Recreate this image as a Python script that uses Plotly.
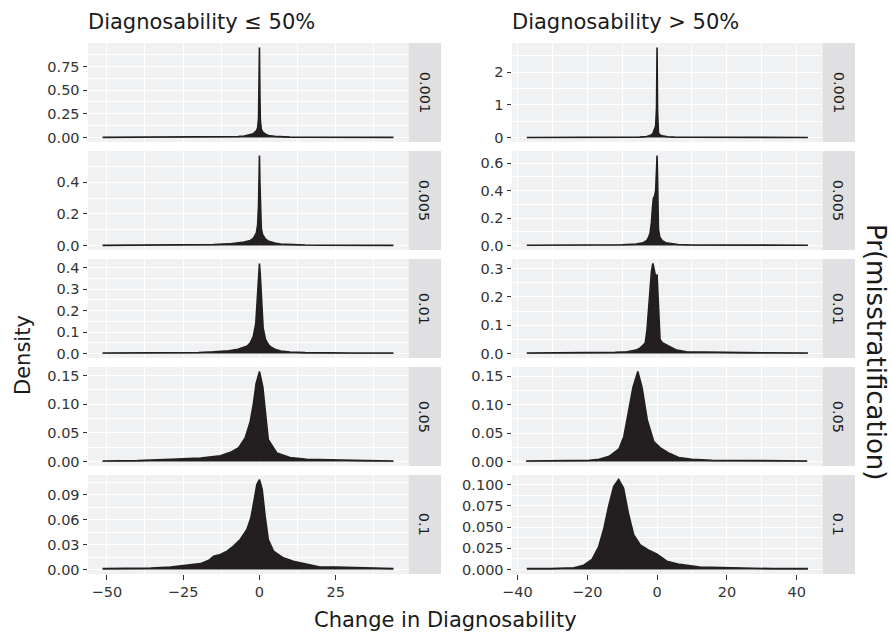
import plotly.graph_objects as go

# ---------------- data ----------------
probs = ["0.001", "0.005", "0.01", "0.05", "0.1"]
col_titles = ["Diagnosability \u2264 50%", "Diagnosability > 50%"]

# Left column: Diagnosability <= 50%
L1_x = [-51.4, -40, -30, -20, -15, -10, -7, -5, -3, -2, -1, -0.6, -0.3, -0.15, 0, 0.15, 0.3, 0.6, 1, 2, 3, 5, 7, 10, 15, 20, 30, 43.9]
L1_y = [0.001, 0.002, 0.002, 0.003, 0.004, 0.006, 0.01, 0.016, 0.028, 0.04, 0.07, 0.1, 0.2, 0.5, 0.95, 0.45, 0.18, 0.09, 0.06, 0.035, 0.022, 0.012, 0.007, 0.004, 0.003, 0.002, 0.002, 0.001]

L2_x = [-51.4, -40, -30, -20, -15, -10, -7, -5, -3, -2, -1, -0.6, -0.3, -0.15, 0, 0.15, 0.3, 0.6, 1, 2, 3, 5, 7, 10, 15, 20, 30, 43.9]
L2_y = [0.001, 0.002, 0.003, 0.004, 0.006, 0.01, 0.016, 0.022, 0.032, 0.045, 0.08, 0.13, 0.25, 0.42, 0.57, 0.4, 0.22, 0.11, 0.07, 0.04, 0.027, 0.015, 0.009, 0.005, 0.003, 0.002, 0.002, 0.001]

L3_x = [-51.4, -40, -30, -20, -15, -10, -7, -5, -4, -3, -2, -1.2, -0.7, -0.3, 0, 0.3, 0.7, 1.2, 2, 3, 4, 5, 7, 10, 15, 20, 30, 43.9]
L3_y = [0.002, 0.002, 0.003, 0.005, 0.008, 0.013, 0.02, 0.028, 0.035, 0.05, 0.08, 0.14, 0.24, 0.36, 0.42, 0.36, 0.22, 0.12, 0.065, 0.04, 0.028, 0.02, 0.012, 0.007, 0.004, 0.003, 0.002, 0.002]

L4_x = [-51.4, -40, -29, -19.3, -12.8, -9.5, -6.8, -4.7, -3, -1.95, -1.1, 0, 1.1, 1.86, 2.9, 5.7, 10, 15.5, 26, 35, 43.9]
L4_y = [0.001, 0.0015, 0.004, 0.006, 0.01, 0.016, 0.024, 0.041, 0.07, 0.102, 0.136, 0.157, 0.13, 0.09, 0.038, 0.015, 0.007, 0.004, 0.002, 0.0015, 0.001]

L5_x = [-51.4, -35.6, -29.1, -23.7, -19.3, -16.6, -15, -12.8, -10.6, -8.5, -6.3, -4.1, -2.8, -1.7, -0.85, 0, 0.9, 1.86, 2.9, 4.6, 7.8, 11.1, 15.5, 19.8, 25.2, 32.8, 43.9]
L5_y = [0.001, 0.0016, 0.003, 0.0048, 0.007, 0.011, 0.016, 0.018, 0.022, 0.028, 0.036, 0.048, 0.062, 0.084, 0.102, 0.108, 0.096, 0.064, 0.036, 0.022, 0.014, 0.01, 0.006, 0.003, 0.003, 0.002, 0.001]

# Right column: Diagnosability > 50%
R1_x = [-37.3, -30, -20, -10, -5, -3, -2, -1.2, -0.7, -0.4, -0.15, 0, 0.15, 0.4, 0.8, 1.5, 3, 5, 10, 20, 30, 43.2]
R1_y = [0.002, 0.003, 0.004, 0.006, 0.012, 0.03, 0.06, 0.12, 0.25, 0.35, 0.9, 2.75, 0.8, 0.15, 0.08, 0.05, 0.025, 0.012, 0.006, 0.004, 0.003, 0.002]

R2_x = [-37.3, -30, -20, -10, -6, -4, -3, -2.5, -2, -1.6, -1.3, -1.05, -0.7, -0.4, -0.15, 0, 0.15, 0.4, 0.8, 1.5, 2.5, 4, 6, 10, 20, 30, 43.2]
R2_y = [0.002, 0.002, 0.003, 0.005, 0.01, 0.02, 0.035, 0.055, 0.09, 0.17, 0.28, 0.345, 0.36, 0.4, 0.55, 0.656, 0.5, 0.12, 0.06, 0.035, 0.02, 0.012, 0.007, 0.004, 0.003, 0.002, 0.002]

R3_x = [-37.3, -30, -20, -12, -8.6, -6, -4.8, -4, -3.4, -2.9, -2.5, -2, -1.6, -1.2, -0.9, -0.5, -0.2, 0, 0.25, 0.5, 0.85, 1.5, 2.8, 4, 5.6, 8.4, 15, 25, 43.2]
R3_y = [0.002, 0.002, 0.003, 0.004, 0.006, 0.012, 0.02, 0.028, 0.037, 0.08, 0.154, 0.224, 0.29, 0.318, 0.3, 0.27, 0.26, 0.28, 0.2, 0.13, 0.05, 0.038, 0.03, 0.02, 0.012, 0.006, 0.004, 0.003, 0.002]

R4_x = [-37.5, -30, -19.4, -16.6, -13.7, -10.9, -9.5, -8.1, -6.9, -5.5, -4.3, -2.8, -0.95, 0.95, 3.3, 6.2, 10, 15.6, 25.1, 35, 43.0]
R4_y = [0.001, 0.001, 0.002, 0.004, 0.009, 0.022, 0.044, 0.09, 0.13, 0.158, 0.13, 0.073, 0.035, 0.024, 0.015, 0.007, 0.004, 0.002, 0.0015, 0.001, 0.001]

R5_x = [-37.3, -30.4, -23.8, -21, -18.6, -16.7, -15.3, -13.9, -12.4, -11, -9.6, -8.2, -6.7, -4.8, -2.5, 0, 2.8, 6.5, 12.2, 17, 21.7, 33, 43.2]
R5_y = [0.001, 0.001, 0.002, 0.005, 0.012, 0.027, 0.047, 0.074, 0.098, 0.106, 0.096, 0.066, 0.041, 0.029, 0.023, 0.018, 0.0098, 0.006, 0.003, 0.0025, 0.0015, 0.001, 0.001]

left_series = [(L1_x, L1_y), (L2_x, L2_y), (L3_x, L3_y), (L4_x, L4_y), (L5_x, L5_y)]
right_series = [(R1_x, R1_y), (R2_x, R2_y), (R3_x, R3_y), (R4_x, R4_y), (R5_x, R5_y)]

# y tick steps and formats per row
left_dtick = [0.25, 0.2, 0.1, 0.05, 0.03]
left_fmt = [".2f", ".1f", ".1f", ".2f", ".2f"]
right_dtick = [1, 0.2, 0.1, 0.05, 0.025]
right_fmt = [".0f", ".1f", ".1f", ".2f", ".3f"]
left_xdtick = 25
right_xdtick = 20

# ---------------- layout geometry ----------------
W, H = 891, 636
col_px = [(88, 408), (512, 822)]
strip_px = [(408.5, 441), (822.5, 855)]
row_top = 43
panel_h = 99
gap = 9

PANEL_BG = "#F0F1F3"
STRIP_BG = "#E0E0E2"
FILL = "#231F20"
FONT = "DejaVu Sans"
TICK_COLOR = "#333333"


def fx(px):
    return px / W


def fy(py):
    return 1 - py / H


fig = go.Figure()
layout = {}
shapes = []
annotations = []

idx = 0
for c, series in enumerate([left_series, right_series]):
    dticks = left_dtick if c == 0 else right_dtick
    fmts = left_fmt if c == 0 else right_fmt
    xdt = left_xdtick if c == 0 else right_xdtick
    # common x range with ggplot's 5% expansion
    allx = [v for s in series for v in s[0]]
    xmin, xmax = min(allx), max(allx)
    xpad = 0.05 * (xmax - xmin)
    xr = [xmin - xpad, xmax + xpad]
    for r, (xs, ys) in enumerate(series):
        idx += 1
        sfx = "" if idx == 1 else str(idx)
        top = row_top + r * (panel_h + gap)
        bot = top + panel_h
        M = max(ys)
        yr = [-0.05 * M, 1.05 * M]
        fig.add_trace(go.Scatter(
            x=xs, y=ys, mode="lines", fill="tozeroy",
            fillcolor=FILL, line=dict(color=FILL, width=1.6),
            xaxis="x" + sfx, yaxis="y" + sfx, showlegend=False,
            hoverinfo="skip"))
        bottom_row = (r == 4)
        layout["xaxis" + sfx] = dict(
            domain=[fx(col_px[c][0]), fx(col_px[c][1])],
            anchor="y" + sfx, range=xr, automargin=False,
            tickmode="linear", tick0=0, dtick=xdt,
            showgrid=True, gridcolor="white", gridwidth=1.3,
            minor=dict(tick0=0, dtick=xdt / 2, showgrid=True,
                       gridcolor="white", gridwidth=0.6),
            zeroline=False, showline=False,
            showticklabels=bottom_row,
            ticks="outside" if bottom_row else "",
            ticklen=4.5, tickwidth=1, tickcolor=TICK_COLOR,
            tickfont=dict(family=FONT, size=14.5, color=TICK_COLOR),
            fixedrange=True,
        )
        layout["yaxis" + sfx] = dict(
            domain=[fy(bot), fy(top)],
            anchor="x" + sfx, range=yr, automargin=False,
            tickmode="linear", tick0=0, dtick=dticks[r], tickformat=fmts[r],
            showgrid=True, gridcolor="white", gridwidth=1.3,
            minor=dict(tick0=0, dtick=dticks[r] / 2, showgrid=True,
                       gridcolor="white", gridwidth=0.6),
            zeroline=False, showline=False,
            ticks="outside", ticklen=4.5, tickwidth=1, tickcolor=TICK_COLOR,
            tickfont=dict(family=FONT, size=14.5, color=TICK_COLOR),
            fixedrange=True,
        )
        # panel background
        shapes.append(dict(type="rect", xref="paper", yref="paper",
                           x0=fx(col_px[c][0]), x1=fx(col_px[c][1]),
                           y0=fy(bot), y1=fy(top), fillcolor=PANEL_BG,
                           line=dict(width=0), layer="below"))
        # strip
        shapes.append(dict(type="rect", xref="paper", yref="paper",
                           x0=fx(strip_px[c][0]), x1=fx(strip_px[c][1]),
                           y0=fy(bot), y1=fy(top), fillcolor=STRIP_BG,
                           line=dict(width=0), layer="below"))
        annotations.append(dict(
            x=fx((strip_px[c][0] + strip_px[c][1]) / 2), y=fy((top + bot) / 2),
            xref="paper", yref="paper", text=probs[r], showarrow=False,
            textangle=90, font=dict(family=FONT, size=14.5, color="#1A1A1A"),
            xanchor="center", yanchor="middle"))

# column titles
for c in range(2):
    annotations.append(dict(
        x=fx(col_px[c][0] - 2), y=fy(22), xref="paper", yref="paper",
        text=col_titles[c], showarrow=False, xanchor="left", yanchor="middle",
        font=dict(family=FONT, size=21, color="#1A1A1A")))

# axis titles
annotations.append(dict(x=fx(445), y=fy(620), xref="paper", yref="paper",
                        text="Change in Diagnosability", showarrow=False,
                        xanchor="center", yanchor="middle",
                        font=dict(family=FONT, size=21, color="#1A1A1A")))
annotations.append(dict(x=fx(23), y=fy(355), xref="paper", yref="paper",
                        text="Density", showarrow=False, textangle=-90,
                        xanchor="center", yanchor="middle",
                        font=dict(family=FONT, size=21, color="#1A1A1A")))
annotations.append(dict(x=fx(876), y=fy(352), xref="paper", yref="paper",
                        text="Pr(misstratification)", showarrow=False, textangle=90,
                        xanchor="center", yanchor="middle",
                        font=dict(family=FONT, size=26, color="#1A1A1A")))

fig.update_layout(
    width=W, height=H,
    margin=dict(l=0, r=0, t=0, b=0, autoexpand=False),
    paper_bgcolor="white", plot_bgcolor="rgba(0,0,0,0)",
    shapes=shapes, annotations=annotations, showlegend=False,
    **layout,
)

fig.write_html("out.html")
